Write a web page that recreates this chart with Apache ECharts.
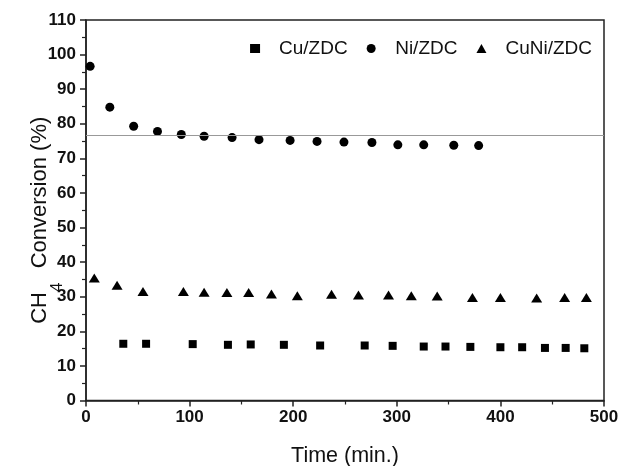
<!DOCTYPE html>
<html>
<head>
<meta charset="utf-8">
<script src="https://cdn.jsdelivr.net/npm/echarts@6/dist/echarts.min.js"></script>
<style>
html,body{margin:0;padding:0;background:#fff;}
#c{width:621px;height:466px;}
</style>
</head>
<body>
<div id="c"></div>
<script>
var cuTime = [36, 58, 103, 137, 159, 191, 226, 269, 296, 326, 347, 371, 400, 421, 443, 463, 481];
var cuVal  = [16.4, 16.4, 16.3, 16.1, 16.2, 16.1, 15.9, 15.9, 15.8, 15.6, 15.6, 15.5, 15.4, 15.4, 15.2, 15.2, 15.1];
var niTime = [4, 23, 46, 69, 92, 114, 141, 167, 197, 223, 249, 276, 301, 326, 355, 379];
var niVal  = [96.6, 84.8, 79.3, 77.8, 76.9, 76.4, 76.0, 75.4, 75.2, 74.9, 74.7, 74.6, 73.9, 73.9, 73.8, 73.7];
var cuniTime = [8, 30, 55, 94, 114, 136, 157, 179, 204, 237, 263, 292, 314, 339, 373, 400, 435, 462, 483];
var cuniVal  = [35.4, 33.3, 31.5, 31.5, 31.3, 31.2, 31.2, 30.8, 30.3, 30.7, 30.5, 30.5, 30.3, 30.2, 29.8, 29.8, 29.6, 29.8, 29.8];
var refLine = 76.8;
var seriesNames = ['Cu/ZDC', 'Ni/ZDC', 'CuNi/ZDC'];

function pairs(t, v) { return t.map(function (x, i) { return [x, v[i]]; }); }

var FONT = '"Liberation Sans", Arial, sans-serif';
var chart = echarts.init(document.getElementById('c'), null, {renderer: 'canvas'});
chart.setOption({
  animation: false,
  backgroundColor: '#fff',
  grid: {left: 86, right: 17, top: 20, bottom: 65.5, containLabel: false, outerBoundsMode: 'none',
         show: true, borderColor: '#222', borderWidth: 1.5},
  legend: {
    top: 34, right: 24, itemGap: 19, itemWidth: 10, itemHeight: 9,
    textStyle: {fontFamily: FONT, fontSize: 19, color: '#111', padding: [0, 0, 0, 14]},
    data: [
      {name: seriesNames[0], icon: 'rect', itemStyle: {opacity: 1}},
      {name: seriesNames[1], icon: 'circle', itemStyle: {opacity: 1}},
      {name: seriesNames[2], icon: 'triangle', itemStyle: {opacity: 1}}
    ]
  },
  xAxis: {
    type: 'value', min: 0, max: 500, interval: 100,
    name: 'Time (min.)', nameLocation: 'middle', nameGap: 45,
    nameTextStyle: {fontFamily: FONT, fontSize: 21.5, color: '#111'},
    axisLine: {lineStyle: {color: '#222', width: 1.5}},
    axisTick: {show: true, inside: false, length: 6, lineStyle: {color: '#222', width: 1.5}},
    minorTick: {show: true, splitNumber: 2, length: 4, lineStyle: {color: '#222', width: 1.2}},
    axisLabel: {fontFamily: FONT, fontSize: 17, fontWeight: 'bold', color: '#111', margin: 8},
    splitLine: {show: false}
  },
  yAxis: {
    type: 'value', min: 0, max: 110, interval: 10,
    name: '{a|CH}{b|4}{a|  Conversion (%)}', nameLocation: 'middle', nameGap: 35, nameRotate: 90,
    nameMoveOverlap: false,
    nameTextStyle: {
      padding: [0, 20, 0, 0],
      rich: {
        a: {fontFamily: FONT, fontSize: 22, color: '#111', lineHeight: 22, verticalAlign: 'top'},
        b: {fontFamily: FONT, fontSize: 17, color: '#111', lineHeight: 17, verticalAlign: 'top', padding: [20, 2, 0, 0]}
      }
    },
    axisLine: {show: true, lineStyle: {color: '#222', width: 1.5}},
    axisTick: {show: true, inside: false, length: 6, lineStyle: {color: '#222', width: 1.5}},
    minorTick: {show: true, splitNumber: 2, length: 4, lineStyle: {color: '#222', width: 1.2}},
    axisLabel: {fontFamily: FONT, fontSize: 17, fontWeight: 'bold', color: '#111', margin: 10},
    splitLine: {show: false}
  },
  series: [
    {name: seriesNames[0], type: 'scatter', symbol: 'rect', symbolSize: 8,
     itemStyle: {color: '#000', opacity: 1}, data: pairs(cuTime, cuVal)},
    {name: seriesNames[1], type: 'scatter', symbol: 'circle', symbolSize: 9,
     itemStyle: {color: '#000', opacity: 1}, data: pairs(niTime, niVal),
     markLine: {silent: true, symbol: 'none', label: {show: false},
       lineStyle: {color: '#999', width: 1.2, type: 'solid'},
       data: [{yAxis: refLine}]}},
    {name: seriesNames[2], type: 'scatter', symbol: 'triangle', symbolSize: [11, 9],
     itemStyle: {color: '#000', opacity: 1}, data: pairs(cuniTime, cuniVal)}
  ]
});
</script>
</body>
</html>
